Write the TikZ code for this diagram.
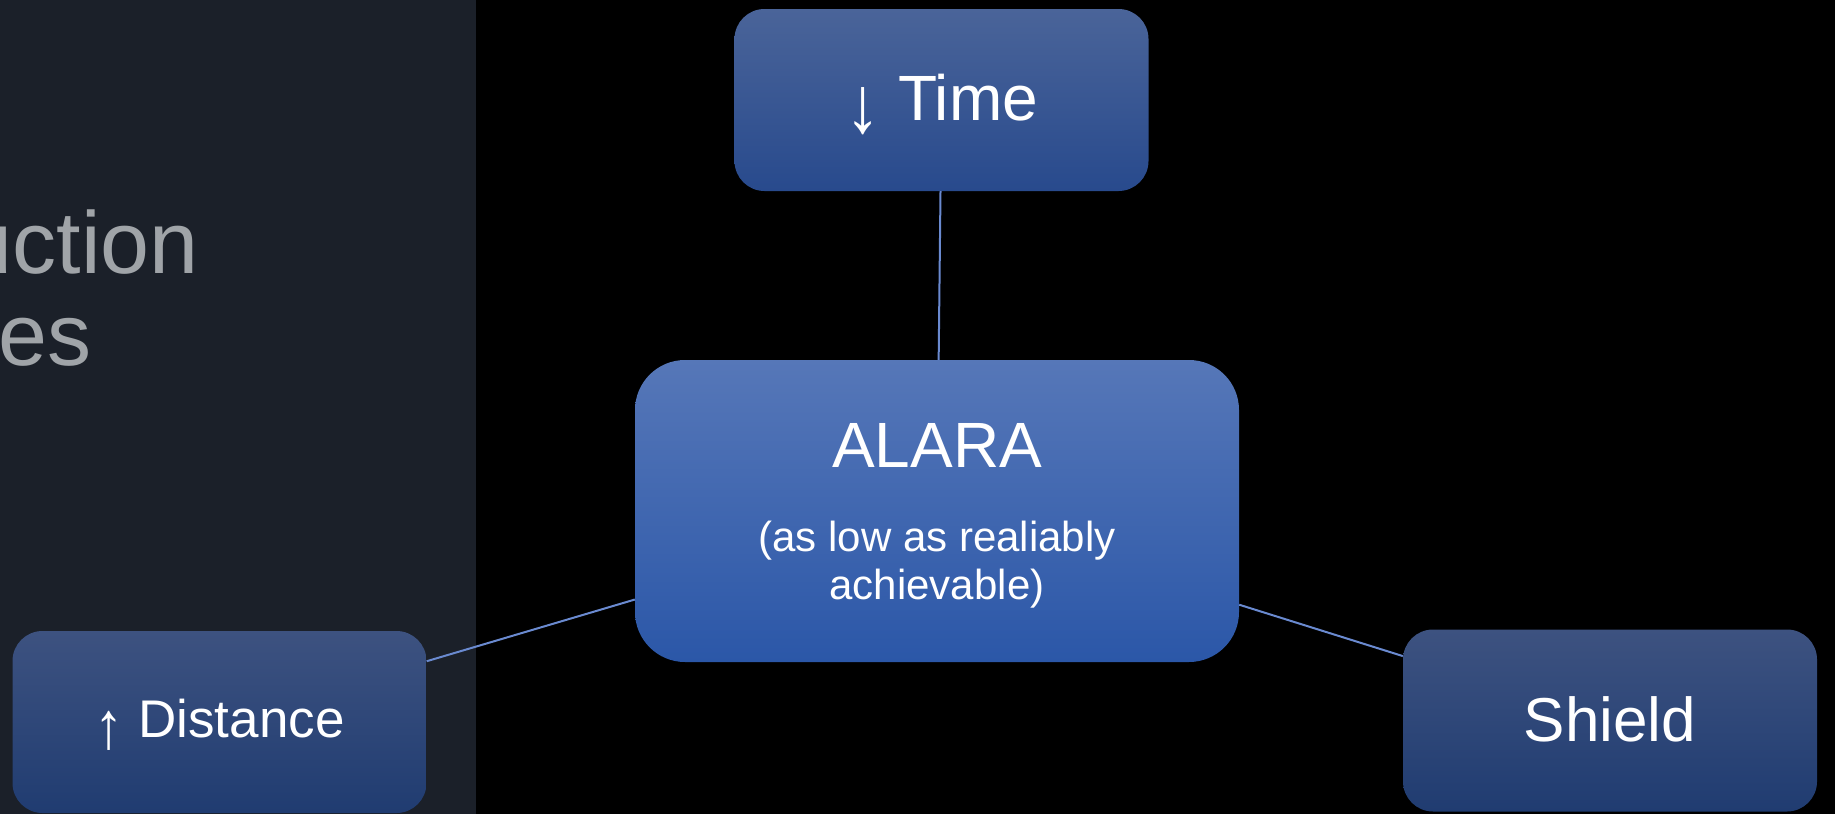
\documentclass[tikz,border=0pt]{standalone}
\usepackage{graphicx}
\usepackage{fontspec}
\setmainfont{Liberation Sans}
\usetikzlibrary{positioning}
\definecolor{PanelGrey}{HTML}{1B2029}
\definecolor{TitleGrey}{HTML}{A0A4A8}
\definecolor{LinkBlue}{HTML}{6A8AD0}
\definecolor{HubTop}{HTML}{5677B8}
\definecolor{HubBottom}{HTML}{2B57A8}
\definecolor{TimeTop}{HTML}{4A6499}
\definecolor{TimeBottom}{HTML}{284A8D}
\definecolor{SideTop}{HTML}{3D5280}
\definecolor{SideBottom}{HTML}{203C71}
\newcommand{\dirarrow}[1]{\raisebox{-0.2em}{\scalebox{1.1}[1.25]{#1}}}

\begin{document}
\begin{tikzpicture}[
      x=1pt, y=-1pt,
      spoke/.style={rounded corners=30pt, minimum width=414pt, minimum height=182pt, inner sep=0pt, text=white, text depth=0pt},
      hub/.style={rounded corners=50pt, minimum width=604pt, minimum height=302pt, inner sep=0pt, top color=HubTop, bottom color=HubBottom},
      title/.style={anchor=base east, inner sep=0pt, text=TitleGrey, font=\fontsize{88}{88}\selectfont},
      link/.style={LinkBlue, line width=2pt}
  ]
    \fill[black](0,0) rectangle (1835,814);
    \fill[PanelGrey](0,0) rectangle (476,814);
    \useasboundingbox (0,0) rectangle (1835,814);
    % cut-off slide title
    \node[title](titleA) at (199,273){uction};
    \node[title](titleB) at (92,365){es};
    % boxes
    \node[hub](alara) at (937,511){};
    \node[inner sep=0pt, text=white, align=center, font=\fontsize{42}{48}\selectfont](alaraText) at (937,515.5){{\fontsize{64}{64}\selectfont ALARA}\\[36pt](as low as realiably\\achievable)};
    \node[spoke, top color=TimeTop, bottom color=TimeBottom, text height=40pt, font=\fontsize{64}{64}\selectfont](time) at (941.5,100){\dirarrow{↓} Time};
    \node[spoke, top color=SideTop, bottom color=SideBottom, text height=31pt, font=\fontsize{53}{53}\selectfont](distance) at (219.5,722){\dirarrow{↑} Distance};
    \node[spoke, top color=SideTop, bottom color=SideBottom, text height=42pt, font=\fontsize{62}{62}\selectfont](shield) at (1610,720.5){Shield};
    \draw[link](time)--(alara); \draw[link](distance)--(alara); \draw[link](shield)--(alara);
  \end{tikzpicture}
\end{document}
